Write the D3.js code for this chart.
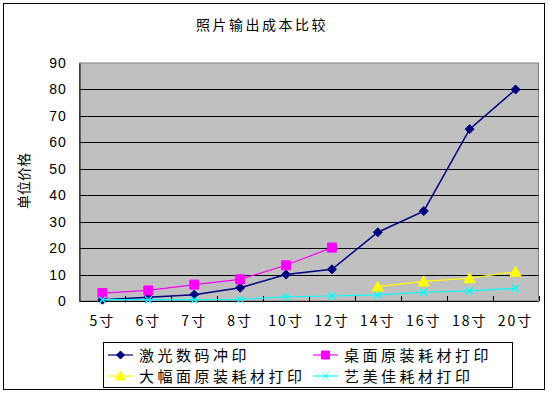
<!DOCTYPE html>
<html>
<head>
<meta charset="utf-8">
<script src="https://cdn.jsdelivr.net/npm/d3@7"></script>
<style>
  body { margin: 0; background: #fff; }
  svg { display: block; }
  text { font-family: "Liberation Sans", Arial, "Noto Sans CJK SC", sans-serif; }
  .cjk { font-family: "Noto Sans CJK SC", sans-serif; }
</style>
</head>
<body>
<svg width="552" height="394"></svg>
<script>
const width = 552;
const height = 394;

// data
var categories = ["5寸", "6寸", "7寸", "8寸", "10寸", "12寸", "14寸", "16寸", "18寸", "20寸"];
var laserPrint = [0.5, 1.4, 2.4, 5, 10, 12, 26, 34, 65, 80];
var desktopPrint = [3, 4, 6.2, 8.2, 13.5, 20.2, null, null, null, null];
var wideFormatPrint = [null, null, null, null, null, null, 5.4, 7.4, 8.6, 11.1];
var artPrint = [0.5, 0.5, 0.5, 0.6, 1.6, 1.9, 2.3, 3.3, 3.8, 4.8];
var yTicks = [0, 10, 20, 30, 40, 50, 60, 70, 80, 90];

var series = [
    {name: "激光数码冲印", values: laserPrint, color: "#000080", marker: "diamond"},
    {name: "桌面原装耗材打印", values: desktopPrint, color: "#FF00FF", marker: "square"},
    {name: "大幅面原装耗材打印", values: wideFormatPrint, color: "#FFFF00", marker: "triangle"},
    {name: "艺美佳耗材打印", values: artPrint, color: "#00FFFF", marker: "cross"}
];

var svg = d3.select("svg");

var plot = {left: 79.5, right: 538.5, top: 63, bottom: 301};

var x = d3.scaleBand().domain(categories).range([plot.left, plot.right]);
var y = d3.scaleLinear().domain([0, 90]).range([plot.bottom, plot.top]);

// outer chart frame
svg.append("rect")
    .attr("x", 3.5).attr("y", 3.5)
    .attr("width", 541).attr("height", 386)
    .attr("fill", "#fff").attr("stroke", "#000").attr("stroke-width", 1);

// title
svg.append("text")
    .attr("class", "cjk")
    .attr("x", 262).attr("y", 30)
    .attr("text-anchor", "middle")
    .attr("font-size", 14)
    .attr("letter-spacing", 2.5)
    .text("照片输出成本比较");

// plot background
svg.append("rect")
    .attr("x", plot.left).attr("y", plot.top)
    .attr("width", plot.right - plot.left).attr("height", plot.bottom - plot.top)
    .attr("fill", "#C0C0C0").attr("stroke", "#808080").attr("stroke-width", 1);

// gridlines
svg.append("g")
    .selectAll("line")
    .data(yTicks.filter(function (d) { return d > 0 && d < 90; }))
    .join("line")
    .attr("x1", plot.left).attr("x2", plot.right)
    .attr("y1", function (d) { return Math.round(y(d)) + 0.5; })
    .attr("y2", function (d) { return Math.round(y(d)) + 0.5; })
    .attr("stroke", "#000");

// y axis
var yAxis = svg.append("g")
    .attr("transform", "translate(" + plot.left + ",0)")
    .call(d3.axisLeft(y).tickValues(yTicks).tickSize(0).tickPadding(13));
yAxis.select(".domain").attr("stroke", "#000");
yAxis.selectAll("text").attr("font-size", 14).attr("fill", "#000")
    .attr("letter-spacing", 0.8)
    .attr("font-family", "Liberation Sans, Arial, sans-serif");

// x axis, ticks between categories pointing inward
var xAxis = svg.append("g")
    .attr("transform", "translate(0," + plot.bottom + ")")
    .call(d3.axisBottom(x).tickSize(0).tickPadding(15));
xAxis.select(".domain").remove();
xAxis.selectAll("text").attr("font-size", 14).attr("fill", "#000")
    .attr("class", "cjk").attr("letter-spacing", 2);
svg.append("line")
    .attr("x1", plot.left).attr("x2", plot.right)
    .attr("y1", plot.bottom + 0.5).attr("y2", plot.bottom + 0.5)
    .attr("stroke", "#000");
svg.append("g")
    .selectAll("line")
    .data(categories)
    .join("line")
    .attr("x1", function (d) { return Math.round(x(d) + x.bandwidth()) + 0.5; })
    .attr("x2", function (d) { return Math.round(x(d) + x.bandwidth()) + 0.5; })
    .attr("y1", plot.bottom - 5).attr("y2", plot.bottom)
    .attr("stroke", "#000");

// y axis title
svg.append("text")
    .attr("class", "cjk")
    .attr("transform", "translate(29,181) rotate(-90)")
    .attr("text-anchor", "middle")
    .attr("font-size", 14)
    .text("单位价格");

function markerPath(type, s) {
    if (type == "diamond") return "M0," + (-s) + "L" + s + ",0L0," + s + "L" + (-s) + ",0Z";
    if (type == "square") return "M" + (-s) + "," + (-s) + "h" + (2 * s) + "v" + (2 * s) + "h" + (-2 * s) + "Z";
    if (type == "triangle") return "M0," + (-s - 1) + "L" + (s + 1) + "," + (s) + "L" + (-s - 1) + "," + (s) + "Z";
    return "M" + (-s) + "," + (-s) + "L" + s + "," + s + "M" + (-s) + "," + s + "L" + s + "," + (-s);
}

var line = d3.line()
    .defined(function (d) { return d != null; })
    .x(function (d, i) { return x(categories[i]) + x.bandwidth() / 2; })
    .y(function (d) { return y(d); });

series.forEach(function (s) {
    var g = svg.append("g");
    g.append("path")
        .attr("d", line(s.values))
        .attr("fill", "none")
        .attr("stroke", s.color)
        .attr("stroke-width", s.marker == "diamond" ? 1.5 : 1.2);
    g.selectAll("path.m")
        .data(s.values.map(function (v, i) { return {v: v, c: categories[i]}; })
            .filter(function (d) { return d.v != null; }))
        .join("path")
        .attr("class", "m")
        .attr("transform", function (d) {
            return "translate(" + (x(d.c) + x.bandwidth() / 2) + "," + y(d.v) + ")";
        })
        .attr("d", markerPath(s.marker, s.marker == "cross" ? 3.5 : 4.5))
        .attr("fill", s.marker == "cross" ? "none" : s.color)
        .attr("stroke", s.color)
        .attr("stroke-width", s.marker == "cross" ? 1.3 : 1);
});

// legend
var legend = svg.append("g");
legend.append("rect")
    .attr("x", 103.5).attr("y", 342.5)
    .attr("width", 409).attr("height", 45)
    .attr("fill", "#fff").attr("stroke", "#000");

var legendPos = [[108, 355], [313, 355], [108, 376], [313, 376]];
series.forEach(function (s, i) {
    var p = legendPos[i];
    var item = legend.append("g").attr("transform", "translate(" + p[0] + "," + p[1] + ")");
    item.append("line")
        .attr("x1", 0).attr("x2", 25)
        .attr("stroke", s.color).attr("stroke-width", 1.2);
    item.append("path")
        .attr("transform", "translate(12.5,0)")
        .attr("d", markerPath(s.marker, s.marker == "cross" ? 3.5 : 4))
        .attr("fill", s.marker == "cross" ? "none" : s.color)
        .attr("stroke", s.color);
    item.append("text")
        .attr("class", "cjk")
        .attr("x", 31).attr("y", 5.5)
        .attr("font-size", 15)
        .attr("letter-spacing", 3.5)
        .text(s.name);
});
</script>
</body>
</html>
